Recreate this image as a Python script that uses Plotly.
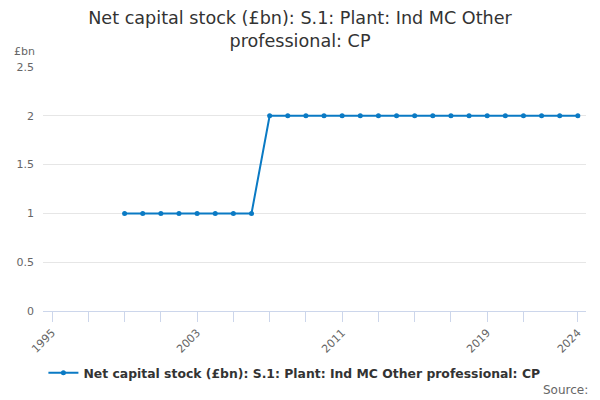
import plotly.graph_objects as go

years = list(range(1999, 2025))
values = [1] * 8 + [2] * 18

tick_years = [1995, 2003, 2011, 2019, 2024]
minor_years = list(range(1995, 2022, 2)) + [2024]

series_name = "Net capital stock (£bn): S.1: Plant: Ind MC Other professional: CP"

fig = go.Figure()
fig.add_trace(
    go.Scatter(
        x=years,
        y=values,
        mode="lines+markers",
        name=series_name,
        line=dict(color="#0a7ac4", width=2),
        marker=dict(size=5, color="#0a7ac4"),
    )
)

fig.update_layout(
    width=600,
    height=400,
    margin=dict(l=43, r=14, t=67, b=89),
    plot_bgcolor="white",
    paper_bgcolor="white",
    font=dict(family="DejaVu Sans", color="#666666", size=11),
    title=dict(
        text="Net capital stock (£bn): S.1: Plant: Ind MC Other<br>professional: CP",
        x=0.5,
        xanchor="center",
        y=0.94,
        yanchor="top",
        font=dict(size=17.6, color="#333333"),
    ),
    showlegend=True,
    legend=dict(
        orientation="h",
        x=0.463,
        xanchor="center",
        y=-0.255,
        yanchor="middle",
        font=dict(size=12.4, color="#333333", weight="bold"),
    ),
    xaxis=dict(
        range=[1994.5, 2024.45],
        tickmode="array",
        tickvals=tick_years,
        ticktext=[str(y) for y in tick_years],
        tickangle=-45,
        ticks="outside",
        ticklen=10,
        tickcolor="#ccd6eb",
        minor=dict(tickmode="array", tickvals=minor_years, ticks="outside",
                   ticklen=10, tickcolor="#ccd6eb", showgrid=False),
        showgrid=False,
        showline=True,
        linecolor="#ccd6eb",
        linewidth=1,
        zeroline=False,
        automargin=False,
    ),
    yaxis=dict(
        range=[0, 2.5],
        tickvals=[0, 0.5, 1, 1.5, 2, 2.5],
        ticktext=["0", "0.5", "1", "1.5", "2", "2.5"],
        showgrid=True,
        gridcolor="#e6e6e6",
        zeroline=False,
        ticks="",
        ticklabelstandoff=8,
        automargin=False,
    ),
    annotations=[
        dict(text="£bn", xref="paper", yref="paper", x=-0.058, y=1.065,
             xanchor="left", yanchor="middle", showarrow=False,
             font=dict(size=11, color="#666666")),
        dict(text="Source:", xref="paper", yref="paper", x=1.007, y=-0.325,
             xanchor="right", yanchor="middle", showarrow=False,
             font=dict(size=12, color="#666666")),
    ],
)

fig.write_html("out.html", config={"displayModeBar": False},
               post_script="document.body.style.margin='0';")
